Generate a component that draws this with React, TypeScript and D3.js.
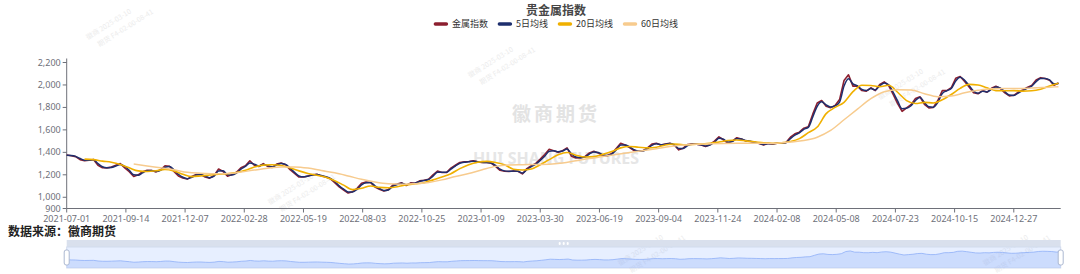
import React from 'react';
import * as d3 from 'd3';

const TITLE = '贵金属指数';
const SOURCE = '数据来源：徽商期货';
const SERIES_NAMES = ['金属指数', '5日均线', '20日均线', '60日均线'];
const SERIES_COLORS = ['#8c1f2f', '#1e2f6e', '#f0b000', '#f7cb8e'];

const X_LABELS = [
  '2021-07-01', '2021-09-14', '2021-12-07', '2022-02-28', '2022-05-19', '2022-08-03',
  '2022-10-25', '2023-01-09', '2023-03-30', '2023-06-19', '2023-09-04', '2023-11-24',
  '2024-02-08', '2024-05-08', '2024-07-23', '2024-10-15', '2024-12-27',
];
const LABEL_INTERVAL = 53;
const CATEGORY_COUNT = 891;
const Y_TICKS = [900, 1000, 1200, 1400, 1600, 1800, 2000, 2200];

// 金属指数, one reading every 4 trading days
const INDEX_STEP = 4;
const INDEX_VALUES = [
  1376, 1370, 1362, 1335, 1326, 1330, 1337, 1285, 1263, 1262,
  1270, 1285, 1300, 1262, 1228, 1185, 1200, 1228, 1240, 1238,
  1226, 1245, 1280, 1276, 1230, 1190, 1171, 1162, 1185, 1203,
  1203, 1180, 1170, 1195, 1252, 1230, 1188, 1202, 1222, 1263,
  1280, 1325, 1285, 1274, 1300, 1275, 1266, 1295, 1305, 1290,
  1245, 1212, 1180, 1180, 1190, 1200, 1205, 1190, 1180, 1165,
  1130, 1092, 1065, 1038, 1050, 1080, 1125, 1135, 1132, 1092,
  1072, 1055, 1068, 1108, 1117, 1128, 1105, 1128, 1125, 1146,
  1152, 1160, 1200, 1233, 1220, 1220, 1260, 1285, 1310, 1315,
  1318, 1324, 1315, 1310, 1310, 1305, 1275, 1240, 1232, 1230,
  1234, 1232, 1208, 1255, 1282, 1302, 1340, 1380, 1428, 1415,
  1400, 1415, 1440, 1365, 1350, 1352, 1362, 1395, 1410, 1395,
  1370, 1370, 1390, 1435, 1480, 1465, 1442, 1415, 1410, 1414,
  1440, 1473, 1480, 1465, 1475, 1481, 1465, 1422, 1437, 1470,
  1475, 1472, 1465, 1452, 1470, 1500, 1538, 1512, 1482, 1500,
  1530, 1518, 1502, 1497, 1488, 1478, 1465, 1480, 1475, 1481,
  1481, 1488, 1535, 1565, 1580, 1615, 1628, 1740, 1840, 1862,
  1810, 1798, 1818, 1870, 2040, 2090, 1990, 1990, 1950, 1945,
  1975, 1950, 2005, 2027, 1995, 1915, 1833, 1765, 1795, 1825,
  1880, 1895, 1828, 1795, 1800, 1862, 1950, 1950, 1975, 2060,
  2075, 2030, 1982, 1930, 1922, 1950, 1935, 1970, 1988, 1968,
  1930, 1902, 1908, 1935, 1955, 1977, 1995, 2045, 2065, 2057,
  2042, 1998, 2018,
];

// 5日均线
const MA5_STEP = 4;
const MA5_VALUES = [
  1374, 1372, 1364, 1345, 1330, 1330, 1333, 1300, 1272, 1263,
  1266, 1278, 1292, 1275, 1240, 1200, 1196, 1218, 1236, 1238,
  1230, 1240, 1268, 1275, 1245, 1205, 1178, 1166, 1178, 1198,
  1202, 1188, 1174, 1188, 1235, 1236, 1200, 1198, 1215, 1250,
  1275, 1305, 1295, 1278, 1292, 1282, 1270, 1288, 1300, 1293,
  1258, 1222, 1190, 1182, 1188, 1198, 1203, 1194, 1183, 1168,
  1140, 1102, 1072, 1048, 1048, 1070, 1110, 1130, 1132, 1102,
  1078, 1060, 1065, 1098, 1113, 1124, 1112, 1122, 1125, 1140,
  1150, 1158, 1188, 1222, 1222, 1222, 1250, 1278, 1302, 1312,
  1316, 1321, 1316, 1311, 1310, 1306, 1284, 1250, 1235, 1231,
  1233, 1232, 1215, 1245, 1272, 1295, 1328, 1365, 1410, 1415,
  1405, 1412, 1430, 1385, 1358, 1352, 1358, 1385, 1403, 1398,
  1378, 1372, 1385, 1422, 1465, 1466, 1448, 1424, 1412, 1413,
  1432, 1462, 1476, 1468, 1472, 1478, 1468, 1435, 1435, 1460,
  1472, 1472, 1467, 1456, 1465, 1490, 1525, 1518, 1492, 1497,
  1520, 1518, 1505, 1498, 1490, 1480, 1470, 1477, 1476, 1480,
  1481, 1486, 1522, 1553, 1574, 1605, 1622, 1715, 1810, 1850,
  1822, 1804, 1814, 1848, 1990, 2055, 2010, 1992, 1960, 1950,
  1968, 1956, 1992, 2018, 2002, 1935, 1858, 1788, 1792, 1815,
  1862, 1888, 1845, 1805, 1802, 1845, 1925, 1948, 1968, 2035,
  2068, 2042, 1995, 1945, 1926, 1944, 1938, 1960, 1982, 1972,
  1940, 1910, 1907, 1928, 1950, 1970, 1990, 2030, 2058, 2058,
  2045, 2010, 2014,
];

// 20日均线
const MA20_START = 16;
const MA20_STEP = 8;
const MA20_VALUES = [
  1340, 1335, 1322, 1312, 1292, 1262, 1235, 1230, 1236, 1248,
  1235, 1205, 1184, 1190, 1198, 1206, 1210, 1220, 1240, 1270,
  1286, 1290, 1283, 1262, 1235, 1212, 1196, 1178, 1148, 1108,
  1068, 1080, 1100, 1088, 1085, 1093, 1110, 1120, 1130, 1155,
  1180, 1210, 1255, 1290, 1312, 1320, 1310, 1290, 1250, 1243,
  1252, 1290, 1335, 1378, 1398, 1375, 1358, 1362, 1382, 1408,
  1440, 1452, 1446, 1440, 1445, 1465, 1474, 1468, 1470, 1474,
  1480, 1492, 1505, 1510, 1502, 1494, 1485, 1480, 1484, 1496,
  1522, 1575, 1625, 1745, 1800, 1845, 1940, 1998, 1995, 1985,
  1997, 1935, 1860, 1835, 1845, 1840, 1868, 1915, 1970, 2005,
  2000, 1975, 1950, 1948, 1950, 1945, 1948, 1962, 1990, 2015,
];

// 60日均线
const MA60_START = 60;
const MA60_STEP = 12;
const MA60_VALUES = [
  1296, 1278, 1262, 1245, 1222, 1214, 1210, 1212, 1225, 1242,
  1258, 1270, 1270, 1260, 1238, 1218, 1190, 1160, 1136, 1120,
  1116, 1120, 1132, 1155, 1185, 1212, 1245, 1275, 1287, 1290,
  1292, 1294, 1305, 1325, 1345, 1362, 1380, 1398, 1415, 1432,
  1452, 1465, 1472, 1476, 1478, 1480, 1481, 1481, 1482, 1492,
  1505, 1535, 1595, 1690, 1785, 1878, 1940, 1958, 1955, 1922,
  1895, 1902, 1930, 1952, 1966, 1968, 1968, 1972, 1978, 1985,
];

const WATERMARK_CN = '徽商期货';
const WATERMARK_EN = 'HUI SHANG FUTURES';
const STAMP_LINES = ['徽商 2025-03-10', '期货 F4-02-00-08-41'];

type Pt = [number, number];
const toPoints = (vals: number[], start: number, step: number): Pt[] =>
  vals.map((v, k) => [start + k * step, v] as Pt);

const CJK = "'Noto Sans CJK SC', 'Noto Sans', sans-serif";
const LATIN = "'Noto Sans', 'Open Sans', sans-serif";

function textWidth(s: string, size: number) {
  let w = 0;
  for (const ch of s) w += /[\u4e00-\u9fff]/.test(ch) ? size : size * 0.56;
  return w;
}

export default function App() {
  const W = 1080;
  const H = 274;
  const left = 66.7;
  const right = 1060.7;
  const top = 62.5;
  const bottom = 208.5;

  const x = d3.scaleLinear().domain([0, CATEGORY_COUNT - 1]).range([left, right]);
  const y = d3.scaleLinear().domain([900, 2200]).range([bottom, top]);

  const straight = d3.line<Pt>().x((d) => x(d[0])).y((d) => y(d[1]));
  const smooth = d3
    .line<Pt>()
    .x((d) => x(d[0]))
    .y((d) => y(d[1]))
    .curve(d3.curveMonotoneX);

  const idxPts = toPoints(INDEX_VALUES, 0, INDEX_STEP);
  const ma5Pts = toPoints(MA5_VALUES, 0, MA5_STEP);
  const ma20Pts = toPoints(MA20_VALUES, MA20_START, MA20_STEP);
  const ma60Pts = toPoints(MA60_VALUES, MA60_START, MA60_STEP);

  // slider (data zoom)
  const sTop = 240;
  const bandH = 7;
  const sBodyTop = sTop + bandH;
  const sBottom = 268;
  const lastIdx = (INDEX_VALUES.length - 1) * INDEX_STEP;
  const sx = d3.scaleLinear().domain([0, lastIdx]).range([left, right]);
  const ext = d3.extent(INDEX_VALUES) as [number, number];
  const pad = (ext[1] - ext[0]) * 0.3;
  const sy = d3.scaleLinear().domain([ext[0] - pad, ext[1] + pad]).range([sBottom, sBodyTop]);
  const sArea = d3
    .area<Pt>()
    .x((d) => sx(d[0]))
    .y0(sBottom)
    .y1((d) => sy(d[1]));
  const sLine = d3.line<Pt>().x((d) => sx(d[0])).y((d) => sy(d[1]));

  // legend layout
  const legendSize = 9;
  const markerLen = 14;
  const items = SERIES_NAMES.map((n) => markerLen + 4 + textWidth(n, legendSize));
  const gap = 10;
  const totalW = d3.sum(items) + gap * (items.length - 1);
  const centerX = 556;
  let cursor = centerX - totalW / 2;
  const legendPos = items.map((w) => {
    const p = cursor;
    cursor += w + gap;
    return p;
  });
  const legendY = 24;

  const stamps: Pt[] = [
    [88, 40], [470, 78], [270, 205], [880, 100], [620, 266], [985, 266],
  ];

  return (
    <svg
      width={W}
      height={H}
      viewBox={`0 0 ${W} ${H}`}
      style={{ position: 'absolute', left: 0, top: 0, background: '#fff' }}
    >
      {/* watermarks */}
      <text
        x={556}
        y={121}
        textAnchor="middle"
        fontFamily={CJK}
        fontWeight="bold"
        fontSize={19}
        letterSpacing={3}
        fill="#e3e3e3"
      >
        {WATERMARK_CN}
      </text>
      <text
        x={556}
        y={164}
        textAnchor="middle"
        fontFamily={LATIN}
        fontWeight="bold"
        fontSize={16}
        fill="#e6e6e6"
      >
        {WATERMARK_EN}
      </text>
      {stamps.map(([sxp, syp], k) => (
        <g key={k} transform={`translate(${sxp},${syp}) rotate(-32)`}>
          {STAMP_LINES.map((t, j) => (
            <text
              key={j}
              x={j * 6}
              y={j * 12}
              fontFamily={CJK}
              fontSize={7}
              fill="#ececec"
            >
              {t}
            </text>
          ))}
        </g>
      ))}

      {/* title */}
      <text
        x={556}
        y={14.5}
        textAnchor="middle"
        fontFamily={CJK}
        fontWeight="bold"
        fontSize={12}
        fill="#464646"
      >
        {TITLE}
      </text>

      {/* legend */}
      {SERIES_NAMES.map((n, k) => (
        <g key={n} transform={`translate(${legendPos[k]},${legendY})`}>
          <line
            x1={1.5}
            x2={markerLen - 1.5}
            y1={0}
            y2={0}
            stroke={SERIES_COLORS[k]}
            strokeWidth={3.5}
            strokeLinecap="round"
          />
          <text
            x={markerLen + 4}
            y={3.2}
            fontFamily={CJK}
            fontSize={legendSize}
            fill="#333"
          >
            {n}
          </text>
        </g>
      ))}

      {/* y axis */}
      <line x1={left} x2={left} y1={top - 4} y2={bottom} stroke="#6e7079" strokeWidth={1} />
      {Y_TICKS.map((t) => (
        <g key={t}>
          <line x1={left - 4} x2={left} y1={y(t)} y2={y(t)} stroke="#6e7079" />
          <text
            x={left - 6}
            y={y(t) + 3}
            textAnchor="end"
            fontFamily={LATIN}
            fontSize={9}
            fill="#6e7079"
          >
            {d3.format(',')(t)}
          </text>
        </g>
      ))}

      {/* x axis */}
      <line x1={left} x2={right} y1={bottom} y2={bottom} stroke="#6e7079" strokeWidth={1} />
      {X_LABELS.map((lab, k) => {
        const xi = x(k * LABEL_INTERVAL);
        return (
          <g key={lab}>
            <line x1={xi} x2={xi} y1={bottom} y2={bottom + 4} stroke="#6e7079" />
            <text
              x={xi}
              y={bottom + 13.5}
              textAnchor="middle"
              fontFamily={LATIN}
              fontSize={9}
              fill="#6e7079"
            >
              {lab}
            </text>
          </g>
        );
      })}

      {/* series */}
      <path d={straight(idxPts) || ''} fill="none" stroke={SERIES_COLORS[0]} strokeWidth={1.6} strokeLinejoin="round" />
      <path d={smooth(ma5Pts) || ''} fill="none" stroke={SERIES_COLORS[1]} strokeWidth={1.5} strokeLinejoin="round" />
      <path d={smooth(ma20Pts) || ''} fill="none" stroke={SERIES_COLORS[2]} strokeWidth={1.6} />
      <path d={smooth(ma60Pts) || ''} fill="none" stroke={SERIES_COLORS[3]} strokeWidth={1.5} />

      {/* data source */}
      <text x={8} y={236} fontFamily={CJK} fontWeight="bold" fontSize={12} fill="#222">
        {SOURCE}
      </text>

      {/* data zoom slider */}
      <rect x={left} y={sTop} width={right - left} height={bandH} fill="#d9e0ed" />
      {[-4, 0, 4].map((dx) => (
        <rect key={dx} x={(left + right) / 2 + dx - 1} y={sTop + 2} width={2} height={3} rx={1} fill="#fff" />
      ))}
      <rect x={left} y={sBodyTop} width={right - left} height={sBottom - sBodyTop} fill="rgba(135,175,255,0.2)" stroke="#d2dbee" strokeWidth={1} />
      <path d={sArea(idxPts) || ''} fill="#8fb0f7" fillOpacity={0.3} />
      <path d={sLine(idxPts) || ''} fill="none" stroke="#8fb0f7" strokeWidth={0.8} />
      {[left, right].map((hx) => (
        <g key={hx}>
          <rect
            x={hx - 2.5}
            y={(sBodyTop + sBottom) / 2 - 7.5}
            width={5}
            height={15}
            rx={2}
            fill="#fff"
            stroke="#acb8d1"
            strokeWidth={1}
          />
        </g>
      ))}
    </svg>
  );
}
